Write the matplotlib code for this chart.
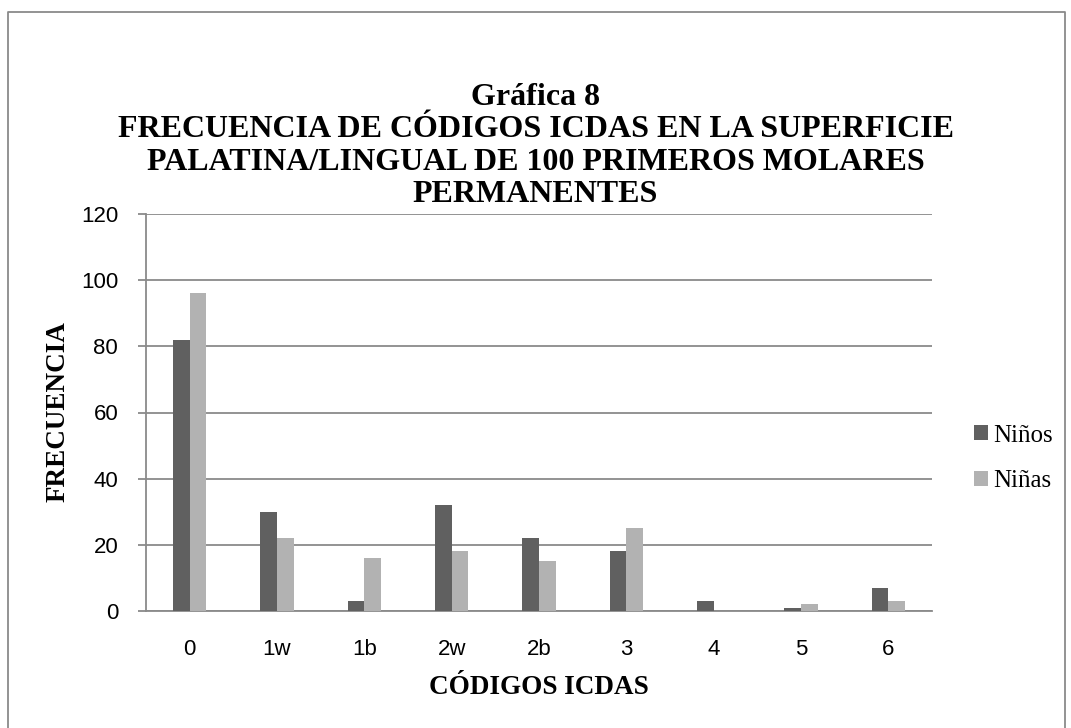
import matplotlib
matplotlib.use("Agg")
import matplotlib.pyplot as plt
import numpy as np
from matplotlib.lines import Line2D

categories = ["0", "1w", "1b", "2w", "2b", "3", "4", "5", "6"]
ninos = [82, 30, 3, 32, 22, 18, 3, 1, 7]
ninas = [96, 22, 16, 18, 15, 25, 0, 2, 3]
yticks = [0, 20, 40, 60, 80, 100, 120]

W, H = 1071, 728
fig = plt.figure(figsize=(W/100, H/100), dpi=100)
# frame edges as in the reference crop
fig.lines.append(Line2D([8/W, 8/W, 1065/W, 1065/W], [0.0, 1 - 12/H, 1 - 12/H, 0.0],
                        transform=fig.transFigure, color="#8a8a8a", linewidth=1.3))

ax = fig.add_axes([146/W, 1 - 611/H, (932 - 146)/W, (611 - 214)/H])

x = np.arange(len(categories))
w = 0.19
ax.bar(x - w/2, ninos, width=w, color="#606060", label="Niños", zorder=3)
ax.bar(x + w/2, ninas, width=w, color="#b2b2b2", label="Niñas", zorder=3)

ax.set_xlim(-0.5, len(categories) - 0.5)
ax.set_ylim(0, 120)
ax.set_yticks(yticks)
ax.set_xticks(x)
ax.set_xticklabels(categories)
ax.yaxis.grid(True, color="#8a8a8a", linewidth=1.3, zorder=0)
for s in ["top", "right"]:
    ax.spines[s].set_visible(False)
for s in ["left", "bottom"]:
    ax.spines[s].set_color("#8a8a8a")
    ax.spines[s].set_linewidth(1.3)
ax.tick_params(axis="y", labelsize=16, colors="#8a8a8a", labelcolor="black",
               length=6, width=1.3, direction="out", pad=14)
ax.tick_params(axis="x", labelsize=16, labelcolor="black", length=0, pad=20)
for lbl in ax.get_xticklabels() + ax.get_yticklabels():
    lbl.set_fontfamily("Liberation Sans")

fig.text(58/W, 1 - 412/H, "FRECUENCIA", rotation=90, ha="center", va="center",
         fontfamily="Liberation Serif", fontweight="bold", fontsize=19.5)
fig.text(539/W, 1 - 688/H, "CÓDIGOS ICDAS", ha="center", va="center",
         fontfamily="Liberation Serif", fontweight="bold", fontsize=19.5)

fig.text(0.5, 1 - 146/H, "Gráfica 8\nFRECUENCIA DE CÓDIGOS ICDAS EN LA SUPERFICIE\n"
         "PALATINA/LINGUAL DE 100 PRIMEROS MOLARES\nPERMANENTES",
         ha="center", va="center", fontfamily="Liberation Serif",
         fontweight="bold", fontsize=23, linespacing=1.16)

leg = fig.legend(*ax.get_legend_handles_labels(), loc="center left",
                 bbox_to_anchor=(974/W, 1 - 458.5/H), frameon=False,
                 prop={"family": "Liberation Serif", "size": 18},
                 handlelength=0.56, handleheight=0.56, handletextpad=0.2,
                 labelspacing=0.95, borderpad=0, borderaxespad=0)

fig.savefig("out.png", dpi=100)
